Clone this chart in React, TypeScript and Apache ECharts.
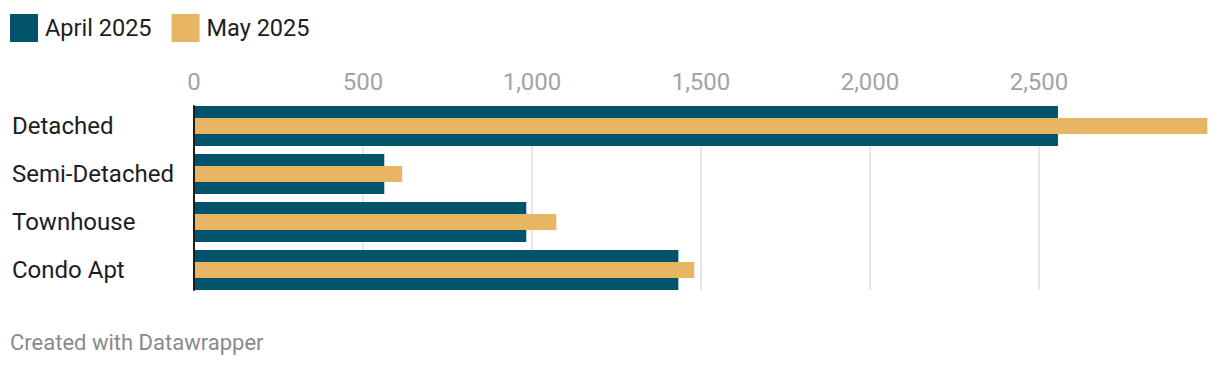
import React, { useEffect, useRef } from "react";
import * as echarts from "echarts";

const categories = ["Detached", "Semi-Detached", "Townhouse", "Condo Apt"];
const april2025 = [2556, 563, 983, 1433];
const may2025 = [2998, 616, 1072, 1480];
const seriesNames = ["April 2025", "May 2025"];
const xTicks = { min: 0, max: 2500, interval: 500 };
const xDataMax = 3000;

const FONT = "Roboto";
const PLOT_LEFT = 194;
const PLOT_RIGHT = 12;
const PLOT_W = 1220 - PLOT_LEFT - PLOT_RIGHT;

export default function App() {
  const ref = useRef<HTMLDivElement>(null);
  useEffect(() => {
    if (!ref.current) return;
    const chart = echarts.init(ref.current, undefined, { renderer: "svg" });
    // tick grid ends exactly at the last tick, with same px/unit scale as the bar grid
    const tickGridRight = PLOT_RIGHT + PLOT_W * (1 - xTicks.max / xDataMax);
    chart.setOption({
      animation: false,
      backgroundColor: "#ffffff",
      textStyle: { fontFamily: FONT },
      legend: {
        left: 10,
        top: 14,
        padding: 0,
        itemWidth: 28,
        itemHeight: 28,
        itemGap: 20,
        icon: "rect",
        data: seriesNames,
        textStyle: { fontFamily: FONT, fontSize: 23.5, color: "#1d1d1d", padding: [0, 0, 0, 2] },
      },
      grid: [
        { left: PLOT_LEFT, right: tickGridRight, top: 106, height: 184 },
        { left: PLOT_LEFT, right: PLOT_RIGHT, top: 102, height: 192 },
      ],
      xAxis: [
        {
          gridIndex: 0,
          type: "value",
          position: "top",
          min: xTicks.min,
          max: xTicks.max,
          interval: xTicks.interval,
          axisLine: { show: false },
          axisTick: { show: false },
          splitLine: { show: true, lineStyle: { color: "#e6e6e6", width: 2 } },
          axisLabel: {
            margin: 12,
            color: "#a3a3a3",
            fontFamily: FONT,
            fontSize: 24,
            formatter: (v: number) => v.toLocaleString("en-US"),
          },
        },
        {
          gridIndex: 1,
          type: "value",
          min: 0,
          max: xDataMax,
          show: false,
        },
      ],
      yAxis: [
        {
          gridIndex: 0,
          type: "category",
          data: categories,
          inverse: true,
          z: 10,
          axisLine: { show: true, lineStyle: { color: "#1d1d1d", width: 2 } },
          axisTick: { show: false },
          axisLabel: { show: false },
        },
        {
          gridIndex: 1,
          type: "category",
          data: categories,
          inverse: true,
          axisLine: { show: false },
          axisTick: { show: false },
          axisLabel: {
            align: "left",
            margin: 182,
            color: "#1d1d1d",
            fontFamily: FONT,
            fontSize: 24,
            padding: [0, 0, 4, 0],
          },
        },
        {
          gridIndex: 1,
          type: "category",
          data: categories,
          inverse: true,
          show: false,
        },
      ],
      series: [
        {
          name: seriesNames[0],
          type: "bar",
          xAxisIndex: 1,
          yAxisIndex: 1,
          data: april2025,
          barWidth: 40,
          itemStyle: { color: "#01526b" },
        },
        {
          name: seriesNames[1],
          type: "bar",
          xAxisIndex: 1,
          yAxisIndex: 2,
          data: may2025,
          barWidth: 16,
          itemStyle: { color: "#e8b562" },
        },
      ],
      graphic: [
        {
          type: "text",
          left: 10,
          top: 331,
          style: {
            text: "Created with Datawrapper",
            fontFamily: FONT,
            fontSize: 22,
            fill: "#8a8a8a",
          },
        },
      ],
    });
    return () => chart.dispose();
  }, []);
  return (
    <div
      ref={ref}
      style={{ position: "fixed", left: 0, top: 0, width: 1220, height: 366 }}
    />
  );
}
